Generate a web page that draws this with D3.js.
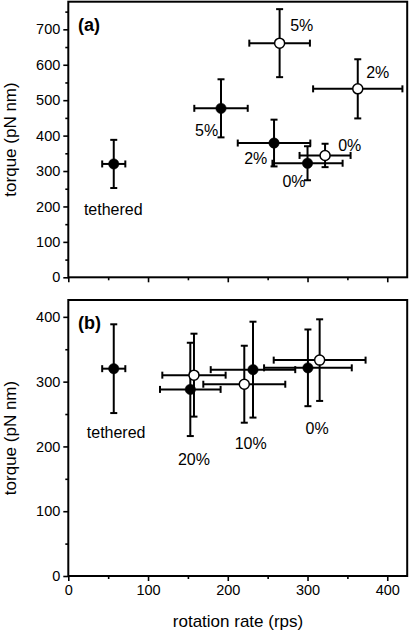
<!DOCTYPE html>
<html><head><meta charset="utf-8">
<script src="https://cdn.jsdelivr.net/npm/d3@7"></script>
<style>body{margin:0;background:#fff}svg{display:block;font-family:"Liberation Sans",Arial,sans-serif}</style>
</head><body>
<svg id="chart" width="411" height="631"></svg>
<script>
// ---- Panel (a) data ----
const aKind      = ["filled","filled","filled","filled","open","open","open"];
const aRate      = [57, 191.5, 258, 300, 265, 363, 322];
const aRateErr   = [14.5, 33.5, 45.5, 44, 38, 56, 32];
const aTorque    = [320, 477, 379, 322, 661, 532, 344];
const aTorqueErr = [68, 82, 66, 48, 96, 83.5, 33];
const aLabelText   = ["tethered","5%","2%","0%","5%","2%","0%"];
const aLabelRate   = [56.4, 173.5, 235, 283, 292.7, 388, 353];
const aLabelTorque = [190, 413, 334, 270, 712, 577, 373];

// ---- Panel (b) data ----
const bKind      = ["filled","filled","filled","filled","open","open","open"];
const bRate      = [57, 153, 231.6, 300.5, 157.6, 220.7, 315.2];
const bRateErr   = [14.5, 38, 53, 55, 39.7, 51.4, 57.6];
const bTorque    = [320, 288, 318.5, 321.3, 310, 296, 333.2];
const bTorqueErr = [68.5, 72, 74, 59.2, 64, 59.4, 63];
const bLabelText   = ["tethered","20%","10%","0%"];
const bLabelRate   = [60, 157.6, 228.7, 312];
const bLabelTorque = [222, 180, 204.8, 228];

// ---- axes ----
const xTicks = [0,100,200,300,400];
const xMinor = [50,150,250,350];
const aYTicks = [0,100,200,300,400,500,600,700];
const aYMinor = [50,150,250,350,450,550,650,750];
const bYTicks = [0,100,200,300,400];
const bYMinor = [50,150,250,350];

const svg = d3.select("#chart");
const left = 68.3, right = 407.2;
const x = d3.scaleLinear().domain([0,425]).range([left,right]);

function panel(top, bottom, ymax, yTicks, yMinor, showXLabels, kind, rate, rateErr, torque, torqueErr, lText, lRate, lTorque, tag) {
  const y = d3.scaleLinear().domain([0,ymax]).range([bottom, top]);
  const g = svg.append("g");
  // y axis
  const ya = g.append("g").attr("transform",`translate(${left},0)`)
    .call(d3.axisLeft(y).tickValues(yTicks).tickSize(5).tickPadding(3).tickFormat(d3.format("d")));
  g.append("g").attr("transform",`translate(${left},0)`)
    .call(d3.axisLeft(y).tickValues(yMinor).tickSize(3).tickFormat(""));
  const xa = g.append("g").attr("transform",`translate(0,${bottom})`)
    .call(d3.axisBottom(x).tickValues(xTicks).tickSize(5).tickPadding(4).tickFormat(showXLabels? d3.format("d") : ""));
  g.append("g").attr("transform",`translate(0,${bottom})`)
    .call(d3.axisBottom(x).tickValues(xMinor).tickSize(3).tickFormat(""));
  g.selectAll(".domain").remove();
  g.selectAll(".tick line").attr("stroke","#000").attr("stroke-width",1.6);
  g.selectAll(".tick text").attr("font-size",14.5).attr("fill","#000")
    .attr("font-family",'"Liberation Sans",Arial,sans-serif');
  // frame
  g.append("rect").attr("x",left).attr("y",top).attr("width",right-left).attr("height",bottom-top)
    .attr("fill","none").attr("stroke","#000").attr("stroke-width",2);
  // error bars
  const idx = d3.range(rate.length);
  const cap = 3.5;
  const eb = g.append("g").attr("stroke","#000").attr("stroke-width",2).attr("fill","none");
  idx.forEach(i=>{
    const cx = x(rate[i]), cy = y(torque[i]);
    const x0 = x(rate[i]-rateErr[i]), x1 = x(rate[i]+rateErr[i]);
    const y0 = y(torque[i]-torqueErr[i]), y1 = y(torque[i]+torqueErr[i]);
    eb.append("line").attr("x1",x0).attr("x2",x1).attr("y1",cy).attr("y2",cy);
    eb.append("line").attr("x1",x0).attr("x2",x0).attr("y1",cy-cap).attr("y2",cy+cap);
    eb.append("line").attr("x1",x1).attr("x2",x1).attr("y1",cy-cap).attr("y2",cy+cap);
    eb.append("line").attr("x1",cx).attr("x2",cx).attr("y1",y0).attr("y2",y1);
    eb.append("line").attr("x1",cx-cap).attr("x2",cx+cap).attr("y1",y0).attr("y2",y0);
    eb.append("line").attr("x1",cx-cap).attr("x2",cx+cap).attr("y1",y1).attr("y2",y1);
  });
  // markers: filled first, then open
  const order = idx.filter(i=>kind[i]==="filled").concat(idx.filter(i=>kind[i]==="open"));
  g.selectAll("circle.m").data(order).join("circle").attr("class","m")
    .attr("cx",i=>x(rate[i])).attr("cy",i=>y(torque[i]))
    .attr("r",i=>kind[i]==="filled"?5.2:5)
    .attr("fill",i=>kind[i]==="filled"?"#000":"#fff")
    .attr("stroke","#000").attr("stroke-width",i=>kind[i]==="filled"?0.5:1.5);
  // labels
  g.selectAll("text.lab").data(d3.range(lText.length)).join("text").attr("class","lab")
    .attr("x",i=>x(lRate[i])).attr("y",i=>y(lTorque[i]))
    .attr("text-anchor","middle").attr("dominant-baseline","central")
    .attr("font-size",16).attr("fill","#000").text(i=>lText[i]);
  // panel tag
  g.append("text").attr("x",78).attr("y",top+23).attr("dominant-baseline","central")
    .attr("font-size",18).attr("font-weight","bold").text(tag);
  // y title
  g.append("text").attr("transform",`translate(10,${(top+bottom)/2}) rotate(-90)`)
    .attr("text-anchor","middle").attr("dominant-baseline","central")
    .attr("font-size",17).text("torque (pN nm)");
}

panel(1.7, 277.3, 778, aYTicks, aYMinor, false, aKind, aRate, aRateErr, aTorque, aTorqueErr, aLabelText, aLabelRate, aLabelTorque, "(a)");
panel(300, 576, 426, bYTicks, bYMinor, true, bKind, bRate, bRateErr, bTorque, bTorqueErr, bLabelText, bLabelRate, bLabelTorque, "(b)");

svg.append("text").attr("x",238).attr("y",621).attr("text-anchor","middle")
  .attr("dominant-baseline","central").attr("font-size",17).text("rotation rate (rps)");
</script>
</body></html>
